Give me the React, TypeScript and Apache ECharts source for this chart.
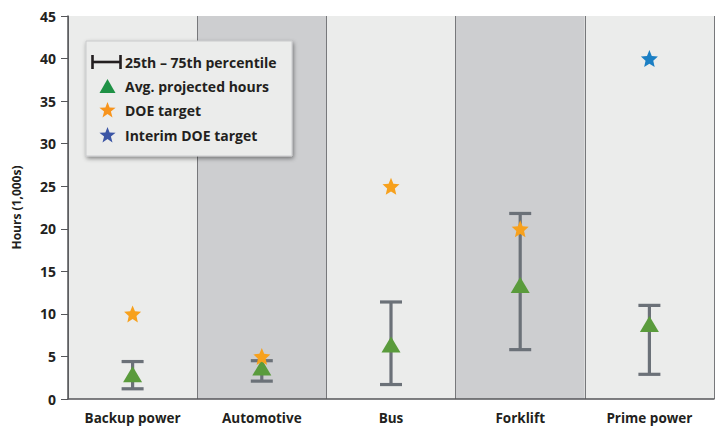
import React, { useEffect, useRef } from "react";
import * as echarts from "echarts";

const categories = ["Backup power", "Automotive", "Bus", "Forklift", "Prime power"];
const p25 = [1.2, 2.1, 1.7, 5.8, 2.9];
const p75 = [4.4, 4.5, 11.4, 21.8, 11.0];
const avgHours = [2.9, 3.7, 6.4, 13.4, 8.8];
const doeTarget: (number | null)[] = [10, 5, 25, 20, null];
const interimDoeTarget: (number | null)[] = [null, null, null, null, 40];
const yTicks = [0, 5, 10, 15, 20, 25, 30, 35, 40, 45];

const legendLabels = [
  "25th \u2013 75th percentile",
  "Avg. projected hours",
  "DOE target",
  "Interim DOE target",
];

const FONT = "'Open Sans', 'Noto Sans', sans-serif";
const STAR =
  "path://M12,1 L15.1,8.3 L23,9 L17,14.2 L18.8,22 L12,17.9 L5.2,22 L7,14.2 L1,9 L8.9,8.3 Z";

function starPoints(cx: number, cy: number, r: number): number[][] {
  const pts: number[][] = [];
  for (let i = 0; i < 10; i++) {
    const rr = i % 2 === 0 ? r : r * 0.42;
    const a = -Math.PI / 2 + (i * Math.PI) / 5;
    pts.push([cx + rr * Math.cos(a), cy + rr * Math.sin(a)]);
  }
  return pts;
}

export default function App() {
  const ref = useRef<HTMLDivElement>(null);
  useEffect(() => {
    if (!ref.current) return;
    const chart = echarts.init(ref.current, undefined, { renderer: "svg" });
    const barColor = "#6b7178";
    const lx = 86,
      ly = 41;
    const rowY = [62, 86, 110, 135];
    const textStyle = { fontFamily: FONT, fontWeight: "bold", fontSize: 14, fill: "#231f20" };
    const Z = 110;
    const legendEls: any[] = [
      {
        type: "rect",
        z: 100,
        shape: { x: lx, y: ly, width: 206, height: 115 },
        style: {
          fill: "#ebeceb",
          stroke: "#c9cacc",
          lineWidth: 1,
          shadowBlur: 4,
          shadowOffsetX: 1,
          shadowOffsetY: 2,
          shadowColor: "rgba(0,0,0,0.45)",
        },
      },
      { type: "line", z: Z, shape: { x1: 92, y1: rowY[0], x2: 121, y2: rowY[0] }, style: { stroke: "#231f20", lineWidth: 2.6 } },
      { type: "line", z: Z, shape: { x1: 92.5, y1: rowY[0] - 7, x2: 92.5, y2: rowY[0] + 7 }, style: { stroke: "#231f20", lineWidth: 2.6 } },
      { type: "line", z: Z, shape: { x1: 120.5, y1: rowY[0] - 7, x2: 120.5, y2: rowY[0] + 7 }, style: { stroke: "#231f20", lineWidth: 2.6 } },
      {
        type: "polygon",
        z: Z,
        shape: { points: [[99.5, rowY[1] + 7], [107.5, rowY[1] - 7], [115.5, rowY[1] + 7]] },
        style: { fill: "#1e9145" },
      },
      { type: "polygon", z: Z, shape: { points: starPoints(107.5, rowY[2] + 0.5, 8.5) }, style: { fill: "#f7941d" } },
      { type: "polygon", z: Z, shape: { points: starPoints(107.5, rowY[3] + 0.5, 8.5) }, style: { fill: "#3b55a5" } },
      ...legendLabels.map((t, i) => ({
        type: "text",
        z: Z,
        x: 125,
        y: rowY[i],
        style: { ...textStyle, text: t, verticalAlign: "middle", textAlign: "left" },
      })),
    ];
    const option: any = {
      animation: false,
      backgroundColor: "#ffffff",
      grid: { left: 68, right: 7, top: 16, bottom: 31 },
      xAxis: {
        type: "category",
        data: categories,
        axisLine: { lineStyle: { color: "#555659", width: 1.5 } },
        axisTick: { alignWithLabel: true, length: 6, lineStyle: { color: "#555659" } },
        axisLabel: {
          color: "#231f20",
          fontFamily: FONT,
          fontWeight: "bold",
          fontSize: 13.5,
          margin: 12,
        },
        splitLine: { show: true, lineStyle: { color: "#77787b", width: 1 } },
        splitArea: { show: true, areaStyle: { color: ["#ebeceb", "#cdced0"] } },
      },
      yAxis: {
        type: "value",
        min: 0,
        max: 45,
        interval: 5,
        name: "Hours (1,000s)",
        nameLocation: "middle",
        nameGap: 46,
        nameTextStyle: { color: "#231f20", fontFamily: FONT, fontWeight: "bold", fontSize: 12 },
        axisLine: { show: true, lineStyle: { color: "#555659", width: 1.5 } },
        axisTick: { show: true, length: 7, lineStyle: { color: "#555659" } },
        axisLabel: {
          color: "#231f20",
          fontFamily: FONT,
          fontWeight: "bold",
          fontSize: 14,
          margin: 12,
          formatter: (v: number) => (yTicks.includes(v) ? String(v) : ""),
        },
        splitLine: { show: false },
      },
      series: [
        {
          type: "custom",
          name: legendLabels[0],
          data: categories.map((_, i) => [i, p25[i], p75[i]]),
          encode: { x: 0, y: [1, 2] },
          z: 2,
          renderItem: (params: any, api: any) => {
            const lo = api.coord([api.value(0), api.value(1)]);
            const hi = api.coord([api.value(0), api.value(2)]);
            const hw = 11;
            const style = { stroke: barColor, lineWidth: 3.2 };
            return {
              type: "group",
              children: [
                { type: "line", shape: { x1: lo[0], y1: lo[1], x2: hi[0], y2: hi[1] }, style },
                { type: "line", shape: { x1: lo[0] - hw, y1: lo[1], x2: lo[0] + hw, y2: lo[1] }, style },
                { type: "line", shape: { x1: hi[0] - hw, y1: hi[1], x2: hi[0] + hw, y2: hi[1] }, style },
              ],
            };
          },
        },
        {
          type: "scatter",
          name: legendLabels[1],
          data: avgHours,
          symbol: "triangle",
          symbolSize: [19, 16],
          itemStyle: { color: "#5a9b3c", opacity: 1 },
          z: 3,
        },
        {
          type: "scatter",
          name: legendLabels[2],
          data: doeTarget,
          symbol: STAR,
          symbolSize: 17,
          itemStyle: { color: "#f7a11d", opacity: 1 },
          z: 4,
        },
        {
          type: "scatter",
          name: legendLabels[3],
          data: interimDoeTarget,
          symbol: STAR,
          symbolSize: 17,
          itemStyle: { color: "#1b7fc4", opacity: 1 },
          z: 4,
        },
      ],
      graphic: legendEls,
    };
    chart.setOption(option);
    return () => chart.dispose();
  }, []);
  return <div ref={ref} style={{ width: 721, height: 430, position: "absolute", left: 0, top: 0 }} />;
}
